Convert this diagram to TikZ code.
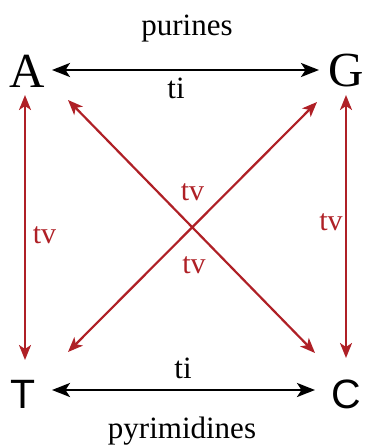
\documentclass[tikz,border=0pt]{standalone}
\usepackage{fontspec}
\setmainfont{Liberation Serif}
\newfontfamily\sansf{Liberation Sans}
\usetikzlibrary{arrows.meta,calc}
\definecolor{tvred}{RGB}{175,32,38}
\begin{document}
\begin{tikzpicture}[x=1pt,y=-1pt,
  letter/.style={inner sep=0pt, font=\fontsize{49}{49}\selectfont},
  sletter/.style={inner sep=0pt, font=\sansf\fontsize{41}{41}\selectfont},
  lbl/.style={inner sep=0pt, anchor=base, font=\fontsize{31}{31}\selectfont},
  tvlbl/.style={lbl, text=tvred, font=\fontsize{30}{30}\selectfont},
  tiarrow/.style={black, line width=2.6pt,
    {Stealth[length=18pt,width=14pt,inset=4.5pt]}-{Stealth[length=18pt,width=14pt,inset=4.5pt]}},
  tvarrow/.style={tvred, line width=2.2pt,
    {Stealth[length=15pt,width=12pt,inset=4pt]}-{Stealth[length=15pt,width=12pt,inset=4pt]}}]
\useasboundingbox (0,0) rectangle (365,447);
% letters
\node[letter] (A) at (27,71) {A};
\node[letter] (G) at (346,71) {G};
\node[sletter] (T) at (23,394) {T};
\node[sletter] (C) at (346,394) {C};
% labels
\node[lbl] (purines) at (187,35) {purines};
\node[lbl] (ti1) at (176,98) {ti};
\node[lbl] (ti2) at (183,378) {ti};
\node[lbl] (pyr) at (182,438) {pyrimidines};
\node[tvlbl] (tv1) at (44.5,243) {tv};
\node[tvlbl] (tv2) at (331,230) {tv};
\node[tvlbl] (tv3) at (192.5,200) {tv};
\node[tvlbl] (tv4) at (194,273) {tv};
% transitions
\draw[tiarrow] ($(A.center)+(25,-1)$) -- ($(G.center)+(-27,-1)$);
\draw[tiarrow] ($(T.center)+(29,-4)$) -- ($(C.center)+(-31,-4)$);
% transversions
\draw[tvarrow] ($(A.center)+(-2,24)$) -- ($(T.center)+(2,-34)$);
\draw[tvarrow] ($(G.center)+(0,24)$) -- ($(C.center)+(0,-36)$);
\draw[tvarrow] ($(A.center)+(41,29)$) -- ($(C.center)+(-31,-41)$);
\draw[tvarrow] ($(G.center)+(-29,31)$) -- ($(T.center)+(45,-42)$);
\end{tikzpicture}
\end{document}
